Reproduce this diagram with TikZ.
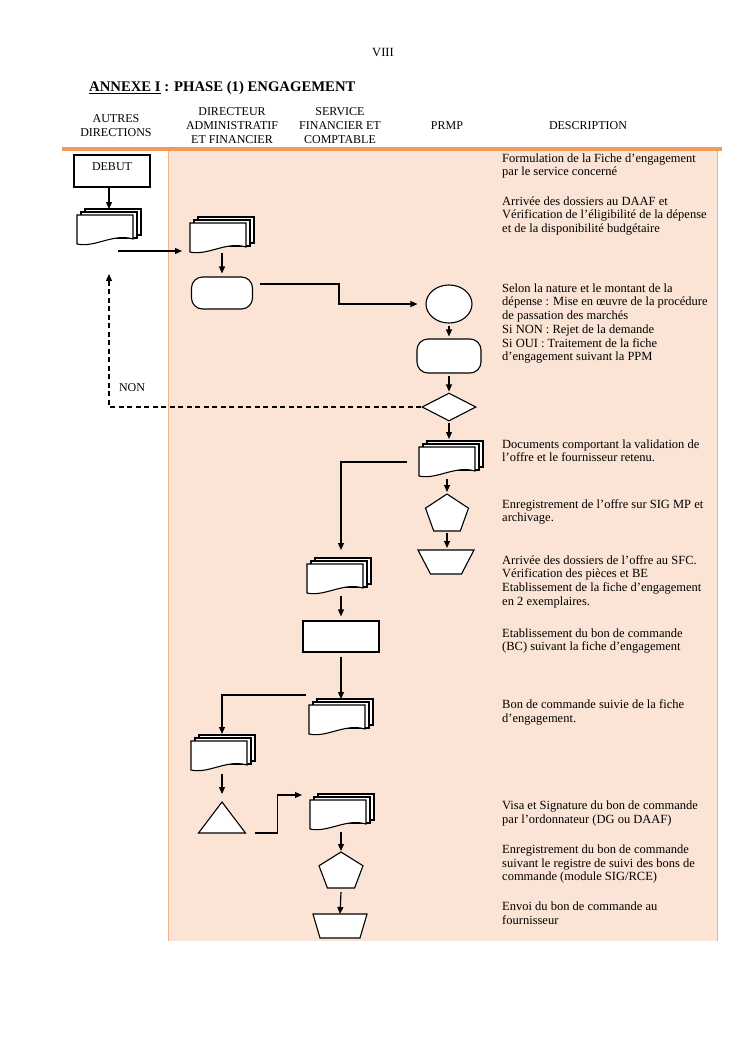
\documentclass[tikz,border=0pt]{standalone}
\usepackage{fontspec}
\setmainfont{Liberation Serif}
\usetikzlibrary{calc,arrows.meta,shapes.geometric}
\definecolor{peach}{HTML}{FBE4D5}
\definecolor{orangeline}{HTML}{F19A5B}
\definecolor{orangethin}{HTML}{F4B183}
\tikzset{
  shapebox/.style={draw=black, fill=white, line width=1.1pt},
  ghost/.style={inner sep=0pt, outer sep=0pt},
  docnode/.style={ghost, minimum width=56pt, minimum height=30pt},
  arr/.style={line width=1.2pt, -{Triangle[length=7pt,width=6pt]}},
  dasharr/.style={line width=1.2pt, dash pattern=on 5pt off 3.5pt, -{Triangle[length=7pt,width=6pt]}},
  desc/.style={anchor=north west, inner sep=0pt, align=left, font=\fontsize{12.5}{13.7}\selectfont},
  head/.style={align=center, inner sep=0pt, font=\fontsize{12}{14}\selectfont},
  mdoc/.pic={
    \path[shapebox] (-20,-21) rectangle (36,5);
    \path[shapebox] (-24,-18) rectangle (32,8);
    \path[shapebox] (-28,-15) -- (28,-15) -- (28,9) .. controls (8,3) and (-10,18) .. (-28,14) -- cycle;
  }
}
\begin{document}
\begin{tikzpicture}[x=1pt,y=-1pt]
\useasboundingbox (0,0) rectangle (745,1053);
\fill[white] (0,0) rectangle (745,1053);

% page number and title
\node[inner sep=0pt, font=\fontsize{12.5}{14}\selectfont] (pagenum) at (383,52) {VIII};
\node[anchor=west, inner sep=0pt, font=\fontsize{14.7}{16}\selectfont\bfseries] (title) at (89,88) {\underline{ANNEXE I} : PHASE (1) ENGAGEMENT};

% table background
\fill[peach] (168,151) rectangle (717,941);
\draw[orangethin, line width=1pt] (168,151) -- (168,941);
\draw[orangethin, line width=1pt] (717,151) -- (717,941);
\draw[orangeline, line width=4pt] (62,149) -- (722,149);

% headers
\node[head] (h1) at (116,126) {AUTRES\\DIRECTIONS};
\node[head] (h2) at (232,126) {DIRECTEUR\\ADMINISTRATIF\\ET FINANCIER};
\node[head] (h3) at (340,126) {SERVICE\\FINANCIER ET\\COMPTABLE};
\node[head] (h4) at (447,126) {PRMP};
\node[head] (h5) at (588,126) {DESCRIPTION};

% descriptions
\node[desc] (t01) at (502,152.5) {\strut Formulation de la Fiche d’engagement\\par le service concerné};
\node[desc] (t02) at (502,195.5) {\strut Arrivée des dossiers au DAAF et\\Vérification de l'éligibilité de la dépense\\et de la disponibilité budgétaire};
\node[desc] (t03) at (502,282.5) {\strut Selon la nature et le montant de la\\dépense : Mise en œuvre de la procédure\\de passation des marchés\\Si NON : Rejet de la demande\\Si OUI : Traitement de la fiche\\d’engagement suivant la PPM};
\node[desc] (t04) at (502,438.5) {\strut Documents comportant la validation de\\l’offre et le fournisseur retenu.};
\node[desc] (t05) at (502,498.5) {\strut Enregistrement de l’offre sur SIG MP et\\archivage.};
\node[desc] (t06) at (502,554.5) {\strut Arrivée des dossiers de l’offre au SFC.\\Vérification des pièces et BE\\Etablissement de la fiche d’engagement\\en 2 exemplaires.};
\node[desc] (t07) at (502,627.5) {\strut Etablissement du bon de commande\\(BC) suivant la fiche d’engagement};
\node[desc] (t08) at (502,698.5) {\strut Bon de commande suivie de la fiche\\d’engagement.};
\node[desc] (t09) at (502,799.5) {\strut Visa et Signature du bon de commande\\par l’ordonnateur (DG ou DAAF)};
\node[desc] (t10) at (502,843.5) {\strut Enregistrement du bon de commande\\suivant le registre de suivi des bons de\\commande (module SIG/RCE)};
\node[desc] (t11) at (502,900.5) {\strut Envoi du bon de commande au\\fournisseur};

% flow shapes
\node[shapebox, minimum width=76pt, minimum height=32pt, inner sep=0pt, font=\fontsize{12}{14}\selectfont, anchor=center] (debut) at (112,171) {};
\node[inner sep=0pt, font=\fontsize{12}{14}\selectfont] (debuttxt) at (112,167) {DEBUT};

\node[docnode] (d1) at (105,230) {}; \pic at (d1.center) {mdoc};
\node[docnode] (d2) at (218,238) {}; \pic at (d2.center) {mdoc};
\node[shapebox, rounded corners=11pt, minimum width=61pt, minimum height=32pt, inner sep=0pt] (rr1) at (222,293) {};
\node[shapebox, ellipse, minimum width=46pt, minimum height=38pt, inner sep=0pt] (c1) at (449,304) {};
\node[shapebox, rounded corners=11pt, minimum width=64pt, minimum height=34pt, inner sep=0pt] (rr2) at (449,356) {};
\node[shapebox, diamond, minimum width=54pt, minimum height=28pt, inner sep=0pt] (dia) at (449,407) {};
\node[inner sep=0pt, font=\fontsize{12}{14}\selectfont] (non) at (132,388) {NON};
\node[docnode] (d3) at (447,462) {}; \pic at (d3.center) {mdoc};

\node[ghost, minimum width=43pt, minimum height=37pt] (p1) at (447,512.5) {};
\path[shapebox] (p1.north) -- ($(p1.north east)!0.382!(p1.south east)$) -- ($(p1.south west)!0.809!(p1.south east)$) -- ($(p1.south west)!0.191!(p1.south east)$) -- ($(p1.north west)!0.382!(p1.south west)$) -- cycle;

\node[ghost, minimum width=56pt, minimum height=24pt] (tr1) at (446,562) {};
\path[shapebox] (tr1.north west) -- (tr1.north east) -- ($(tr1.south east)+(-12.5,0)$) -- ($(tr1.south west)+(12.5,0)$) -- cycle;

\node[docnode] (d4) at (335,579) {}; \pic at (d4.center) {mdoc};
\node[shapebox, minimum width=76pt, minimum height=31pt, inner sep=0pt] (r1) at (341,636.5) {};
\node[docnode] (d5) at (337,720) {}; \pic at (d5.center) {mdoc};
\node[docnode] (d6) at (219,756) {}; \pic at (d6.center) {mdoc};

\node[ghost, minimum width=47pt, minimum height=31pt] (tri) at (222,817.5) {};
\path[shapebox] (tri.south west) -- (tri.north) -- (tri.south east) -- cycle;

\node[docnode] (d7) at (338,815) {}; \pic at (d7.center) {mdoc};

\node[ghost, minimum width=44pt, minimum height=36pt] (p2) at (341,870) {};
\path[shapebox] (p2.north) -- ($(p2.north east)!0.382!(p2.south east)$) -- ($(p2.south west)!0.809!(p2.south east)$) -- ($(p2.south west)!0.191!(p2.south east)$) -- ($(p2.north west)!0.382!(p2.south west)$) -- cycle;

\node[ghost, minimum width=54pt, minimum height=24pt] (tr2) at (340,926) {};
\path[shapebox] (tr2.north west) -- (tr2.north east) -- ($(tr2.south east)+(-7,0)$) -- ($(tr2.south west)+(7,0)$) -- cycle;

% connectors
\draw[arr] ($(debut.south)+(-3,0)$) -- ($(d1.north)+(4,-6)$);
\draw[arr] ($(d1.south)+(13,6)$) -- ($(d2.west)+(-8,13)$);
\draw[arr] ($(d2.south)+(4,0)$) -- ($(rr1.north)+(0,-3)$);
\draw[arr] ($(rr1.east)+(7,-9)$) -- ++(79,0) |- ($(c1.west)+(-8,0)$);
\draw[arr] ($(c1.south)+(0,2)$) -- ($(rr2.north)+(0,-2)$);
\draw[arr] ($(rr2.south)+(0,2)$) -- ($(dia.north)+(0,-1)$);
\draw[dasharr] (dia.west) -| ($(d1.south)+(4,29)$);
\draw[arr] ($(dia.south)+(0,1)$) -- ($(d3.north)+(2,-8)$);
\draw[arr] ($(d3.west)+(-12,0)$) -| ($(d4.north)+(6,-14)$);
\draw[arr] ($(d3.south)+(0,2)$) -- ($(p1.north)+(0,-2)$);
\draw[arr] ($(p1.south)+(0,2)$) -- ($(p1.south |- tr1.north)+(0,-2)$);
\draw[arr] ($(d4.south)+(6,2)$) -- ($(r1.north)+(0,-4)$);
\draw[arr] ($(r1.south)+(0,4)$) -- ($(d5.north)+(4,-6)$);
\draw[arr] ($(d5.west)+(-3,-25)$) -| ($(d6.north)+(3,-7)$);
\draw[arr] ($(d6.south)+(3,3)$) -- ($(tri.north)+(0,-8)$);
\draw[arr] ($(tri.south east)+(9,0)$) -- ++(23,0) |- ($(d7.west)+(-8,-20)$);
\draw[arr] ($(d7.south)+(3,2)$) -- ($(p2.north)+(0,-1)$);
\draw[arr] ($(p2.south)+(0,4)$) -- ($(tr2.north)+(0,0)$);
\end{tikzpicture}
\end{document}
